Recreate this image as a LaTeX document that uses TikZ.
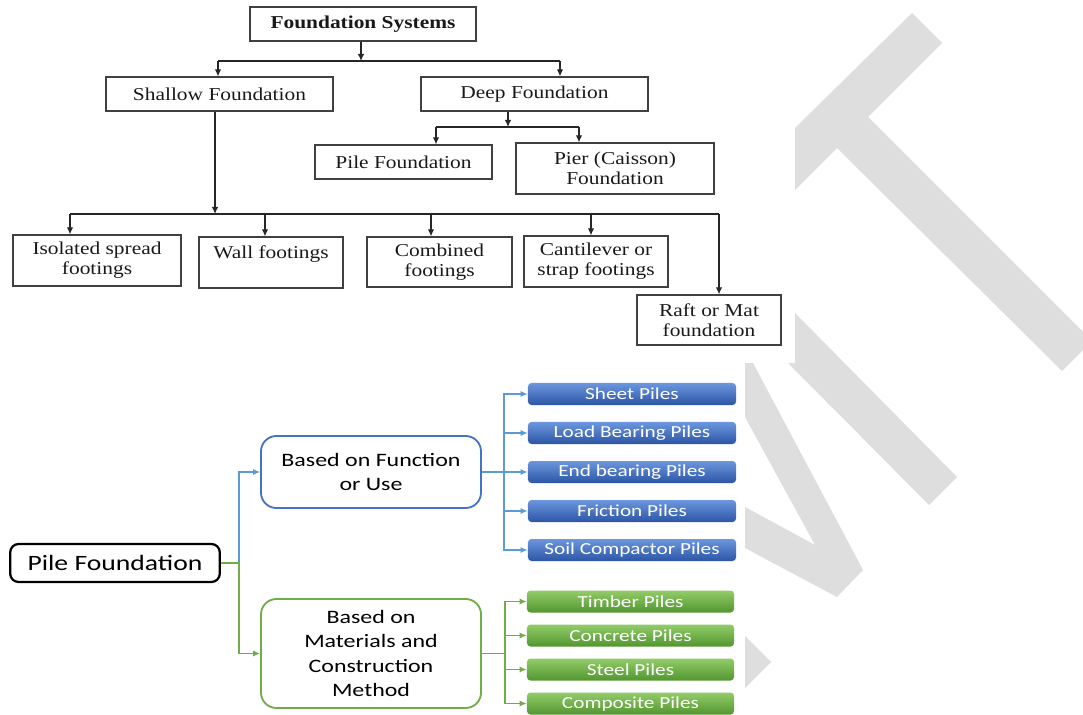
\documentclass[tikz,border=0pt]{standalone}
\usepackage{fontspec}
\setmainfont{Liberation Serif}
\newfontfamily\topfont[FakeStretch=1.18]{Liberation Serif}
\newfontfamily\pilefont[FakeStretch=1.26]{Carlito}
\usetikzlibrary{arrows.meta,calc}

\definecolor{wmgrey}{RGB}{222,222,222}
\definecolor{lineblue}{RGB}{91,155,213}
\definecolor{boxblue}{RGB}{68,114,196}
\definecolor{linegreen}{RGB}{112,173,71}
\definecolor{bluetop}{RGB}{108,150,222}
\definecolor{bluebot}{RGB}{44,86,165}
\definecolor{greentop}{RGB}{146,204,106}
\definecolor{greenbot}{RGB}{82,150,46}

\tikzset{
    fsbox/.style={draw=black!75, line width=0.9pt, text=black!90, align=center, inner sep=0pt,
        font=\topfont\fontsize{12.9pt}{14.2pt}\selectfont},
    fsline/.style={line width=0.8pt, black!85},
    arr/.style={fsline, -{Latex[length=5pt,width=4.6pt]}},
    pilebox/.style={draw=black, line width=1.6pt, rounded corners=6pt, inner sep=0pt,
        minimum width=5.24cm, minimum height=0.95cm,
        font=\pilefont\fontsize{15.6pt}{18pt}\selectfont},
    groupbox/.style={line width=1.3pt, rounded corners=11pt, minimum width=5.5cm, align=center,
        inner sep=0pt, font=\pilefont\fontsize{13.5pt}{17.4pt}\selectfont},
    typebox/.style={rounded corners=2.5pt, minimum height=0.55cm, inner sep=0pt, text=white,
        font=\pilefont\fontsize{12pt}{14pt}\selectfont},
    bluetype/.style={typebox, minimum width=5.2cm, top color=bluetop, bottom color=bluebot},
    greentype/.style={typebox, minimum width=5.175cm, top color=greentop, bottom color=greenbot},
    barb/.style={lineblue, line width=1.2pt, -{Latex[length=5pt,width=4.4pt]}},
    barg/.style={linegreen, line width=1.2pt, -{Latex[length=5pt,width=4.4pt]}}
}

\begin{document}
\begin{tikzpicture}[x=0.025cm, y=-0.025cm]

    \fill[white] (0,0) rectangle (1083,715);

    %Watermark
    \fill[wmgrey] (912,13) -- (942,43) -- (868,117) -- (1083,332) -- (1083,350) -- (1062,371)
        -- (837,148) -- (795,190) -- (795,128) -- cycle;
    \fill[wmgrey] (795,313) -- (957,477) -- (929,505) -- (788,363) -- (795,363) -- cycle;
    \fill[wmgrey] (745,363) -- (753,363) -- (863,570) -- (837,597) -- (745,548) -- (745,507)
        -- (815,545) -- (745,417) -- cycle;
    \fill[wmgrey] (745,636) -- (771,662) -- (745,688) -- cycle;

    %Foundation systems
    \node[fsbox, minimum width=5.65cm, minimum height=0.85cm] (fs) at (363,24) {\bfseries Foundation Systems};
    \node[fsbox, minimum width=5.675cm, minimum height=0.85cm] (sf) at (219.5,94) {Shallow Foundation};
    \node[fsbox, minimum width=5.675cm, minimum height=0.85cm] (df) at (534.5,94) {Deep Foundation};
    \node[fsbox, minimum width=4.425cm, minimum height=0.85cm] (pf) at (403.5,162) {Pile Foundation};
    \node[fsbox, minimum width=4.95cm, minimum height=1.275cm] (pr) at (615,168.5) {Pier (Caisson)\\Foundation};
    \node[fsbox, minimum width=4.2cm, minimum height=1.275cm] (iso) at (97,260.5) {Isolated spread\\footings};
    \node[fsbox, minimum width=3.6cm, minimum height=1.275cm] (wall) at (271,262.5) {Wall footings\\\mbox{}};
    \node[fsbox, minimum width=3.625cm, minimum height=1.25cm] (comb) at (439.5,262) {Combined\\footings};
    \node[fsbox, minimum width=3.6cm, minimum height=1.275cm] (cant) at (596,261.5) {Cantilever or\\strap footings};
    \node[fsbox, minimum width=3.6cm, minimum height=1.25cm] (raft) at (709,320) {Raft or Mat\\foundation};

    \coordinate (j1) at (361,61);
    \coordinate (j1l) at (218,61);
    \coordinate (j1r) at (560,61);
    \draw[arr] (j1 |- fs.south) -- (j1);
    \draw[fsline] (j1l) -- (j1r);
    \draw[arr] (j1l) -- (j1l |- sf.north);
    \draw[arr] (j1r) -- (j1r |- df.north);

    \coordinate (j2) at (508,127);
    \coordinate (j2l) at (436,127);
    \coordinate (j2r) at (579,127);
    \draw[arr] (j2 |- df.south) -- (j2);
    \draw[fsline] (j2l) -- (j2r);
    \draw[arr] (j2l) -- (j2l |- pf.north);
    \draw[arr] (j2r) -- (j2r |- pr.north);

    \coordinate (j3) at (215,214);
    \draw[arr] (j3 |- sf.south) -- (j3);
    \draw[fsline] (70,214) -- (719,214);
    \foreach \x/\n in {70/iso, 265/wall, 431/comb, 591/cant, 719/raft}
        \draw[arr] (\x,214) -- (\x,214 |- \n.north);

    %Pile types
    \node[pilebox] (pfd) at (115,563) {Pile Foundation};
    \node[groupbox, draw=boxblue, minimum height=1.8cm] (fun) at (371,472) {Based on Function\\or Use};
    \node[groupbox, draw=linegreen, minimum height=2.725cm] (mat) at (371,653.5)
        {Based on\\Materials and\\Construction\\Method};

    \foreach \y/\n/\t in {394/sheet/Sheet Piles, 433/load/Load Bearing Piles, 472/endb/End bearing Piles,
        511/fric/Friction Piles, 550/soil/Soil Compactor Piles}
        \node[bluetype] (\n) at (632,\y) {\t};
    \foreach \y/\n/\t in {601.5/timber/Timber Piles, 635.5/concrete/Concrete Piles,
        669.5/steel/Steel Piles, 703.5/composite/Composite Piles}
        \node[greentype] (\n) at (630.5,\y) {\t};

    \coordinate (k1) at (239,563);
    \draw[barb] (k1) |- (fun.west);
    \draw[barg] (pfd.east) -- (k1) |- (mat.west);

    \coordinate (k2) at (504,472);
    \draw[barb, -] (fun.east) -- (k2);
    \foreach \n in {sheet, load, endb, fric, soil}
        \draw[barb] (k2) |- (\n.west);

    \coordinate (k3) at (505,653.5);
    \draw[barg, -] (mat.east) -- (k3);
    \foreach \n in {timber, concrete, steel, composite}
        \draw[barg] (k3) |- (\n.west);

\end{tikzpicture}
\end{document}
